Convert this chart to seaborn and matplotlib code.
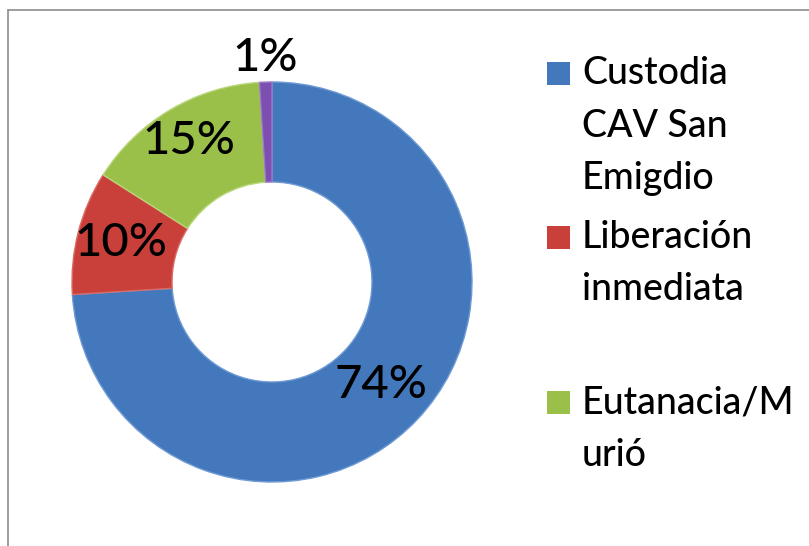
import numpy as np
import matplotlib
matplotlib.use("Agg")
import matplotlib.pyplot as plt
import seaborn as sns
from matplotlib.patches import Rectangle
from matplotlib.lines import Line2D

# ==========================================================
# Data
# ==========================================================

categories = ["Custodia CAV San Emigdio", "Liberación inmediata", "Eutanacia/Murió", "Otro"]
legend_lines = [["Custodia", "CAV San", "Emigdio"], ["Liberación", "inmediata"], ["Eutanacia/M", "urió"]]
values = [74, 10, 15, 1]
pct_labels = ["74%", "10%", "15%", "1%"]

# ==========================================================
# Style
# ==========================================================

sns.set_style("white")
plt.rcParams["font.family"] = ["Lato", "DejaVu Sans"]

colors = sns.color_palette(["#4478BD", "#C9403B", "#9BC04A", "#7D4FB0"])
edge_colors = ["#6F9AD3", "#DB6B66", "#B8D67A", "#9C7AC8"]

W, H = 809, 546
fig = plt.figure(figsize=(W / 100, H / 100), dpi=100)

# chart frame (right and bottom edges fall outside the picture)
fig.add_artist(Line2D([8 / W, 8 / W], [0, 1 - 10 / H], transform=fig.transFigure,
                      color="#8C8C8C", lw=1.2))
fig.add_artist(Line2D([8 / W, 1], [1 - 10 / H, 1 - 10 / H], transform=fig.transFigure,
                      color="#8C8C8C", lw=1.2))

# ==========================================================
# Donut
# ==========================================================

cx, cy, R = 272, 282, 200
ax = fig.add_axes([(cx - R) / W, (H - cy - R) / H, 2 * R / W, 2 * R / H])

wedges, _ = ax.pie(
    values,
    colors=colors,
    startangle=90,
    counterclock=False,
    radius=1.0,
    wedgeprops=dict(width=0.5, linewidth=1.0),
)
for w, ec in zip(wedges, edge_colors):
    w.set_edgecolor(ec)

label_r = [0.75, 0.78, 0.82, 1.12]
for w, txt, r in zip(wedges, pct_labels, label_r):
    theta = np.deg2rad((w.theta1 + w.theta2) / 2)
    ax.text(r * np.cos(theta), r * np.sin(theta), txt, ha="center", va="center",
            fontsize=34, fontweight="medium", color="black")

ax.set_xlim(-1, 1)
ax.set_ylim(-1, 1)
ax.set_aspect("equal")
ax.axis("off")

# ==========================================================
# Legend (first three entries visible)
# ==========================================================

entry_top = [74, 238, 403]
line_h = 52
for lines, color, ytop in zip(legend_lines, colors, entry_top):
    fig.add_artist(Rectangle((547 / W, 1 - (ytop + 11) / H), 23 / W, 23 / H,
                             transform=fig.transFigure, facecolor=color,
                             edgecolor="none"))
    for i, line in enumerate(lines):
        fig.text(582 / W, 1 - (ytop + i * line_h) / H, line, ha="left",
                 va="center", fontsize=27, fontweight="medium", color="black")

plt.savefig("out.png", dpi=100)
